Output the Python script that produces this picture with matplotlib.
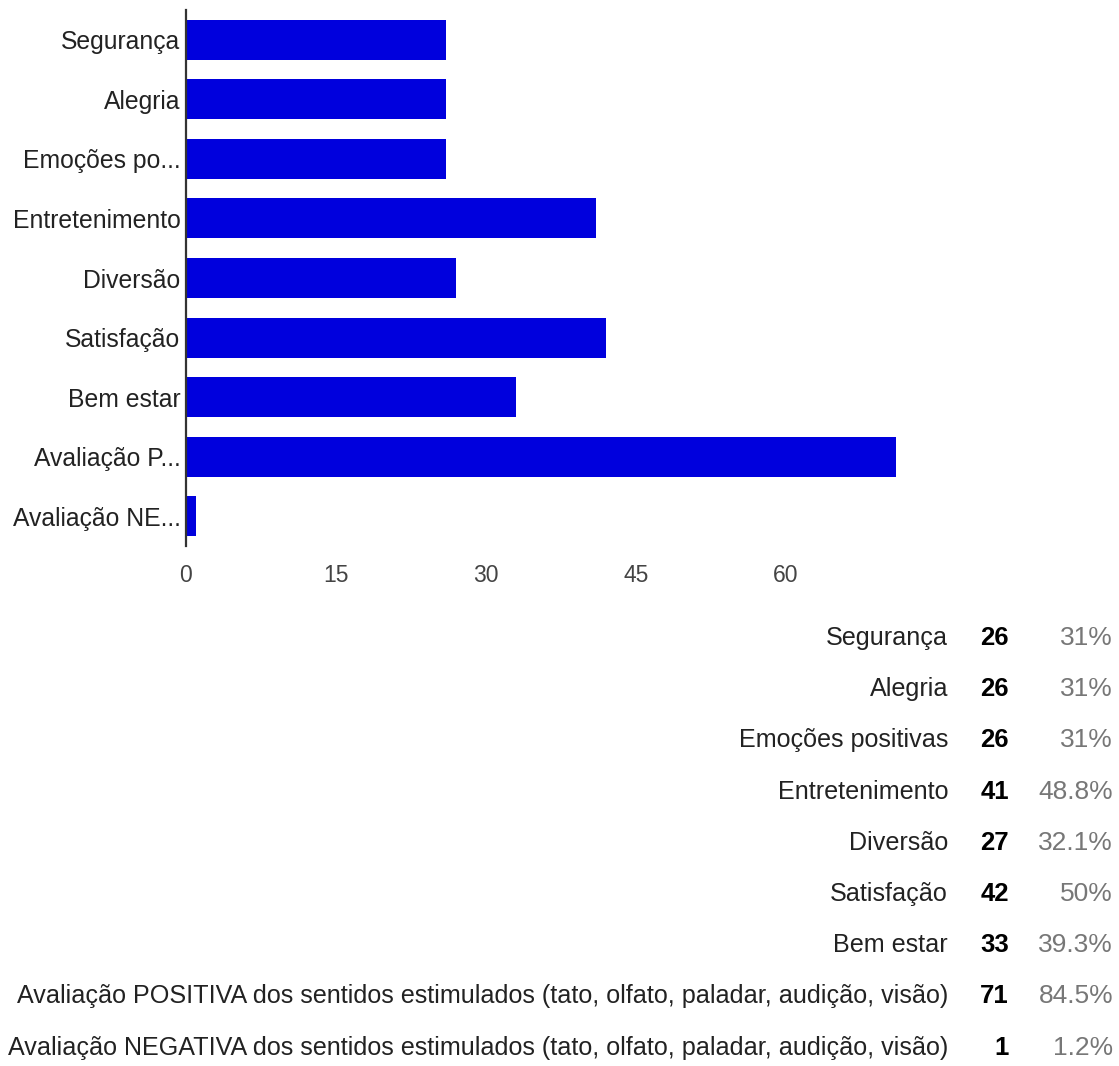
import matplotlib
matplotlib.use('Agg')
import matplotlib.pyplot as plt

plt.rcParams['font.family'] = ['Liberation Sans', 'DejaVu Sans']

# data
axis_labels = ['Segurança', 'Alegria', 'Emoções po...', 'Entretenimento', 'Diversão',
               'Satisfação', 'Bem estar', 'Avaliação P...', 'Avaliação NE...']
full_labels = ['Segurança', 'Alegria', 'Emoções positivas', 'Entretenimento', 'Diversão',
               'Satisfação', 'Bem estar',
               'Avaliação POSITIVA dos sentidos estimulados (tato, olfato, paladar, audição, visão)',
               'Avaliação NEGATIVA dos sentidos estimulados (tato, olfato, paladar, audição, visão)']
counts = [26, 26, 26, 41, 27, 42, 33, 71, 1]
percents = ['31%', '31%', '31%', '48.8%', '32.1%', '50%', '39.3%', '84.5%', '1.2%']
xticks = [0, 15, 30, 45, 60]

W, H = 1119, 1066
fig = plt.figure(figsize=(W / 100, H / 100), dpi=100)

# chart area in pixels
left, right, top, bottom = 186, 936, 10, 546
ax = fig.add_axes([left / W, 1 - bottom / H, (right - left) / W, (bottom - top) / H])

ypos = list(range(len(counts)))
ax.barh(ypos, counts, height=0.67, color='#0000DD', edgecolor='none')
ax.set_ylim(len(counts) - 0.5, -0.5)
ax.set_xlim(0, 75)

ax.set_yticks(ypos)
ax.set_yticklabels(axis_labels, fontsize=17.8, color='#222222')
ax.set_xticks(xticks)
ax.set_xticklabels([str(t) for t in xticks], fontsize=16.5, color='#444444')
ax.tick_params(axis='y', length=0, pad=4)
ax.tick_params(axis='x', length=0, pad=13)

for side in ['top', 'right', 'bottom']:
    ax.spines[side].set_visible(False)
ax.spines['left'].set_color('#333333')
ax.spines['left'].set_linewidth(1.6)

# table below the chart
row0, row_step = 638, 51.2
for i, (lab, n, p) in enumerate(zip(full_labels, counts, percents)):
    y = 1 - (row0 + row_step * i) / H
    fig.text(948 / W, y, lab, ha='right', va='center', fontsize=18.1, color='#222222')
    fig.text(1009 / W, y, str(n), ha='right', va='center', fontsize=18.5,
             fontweight='bold', color='#000000')
    fig.text(1113 / W, y, p, ha='right', va='center', fontsize=19, color='#777777')

fig.savefig('out.png', dpi=100)
